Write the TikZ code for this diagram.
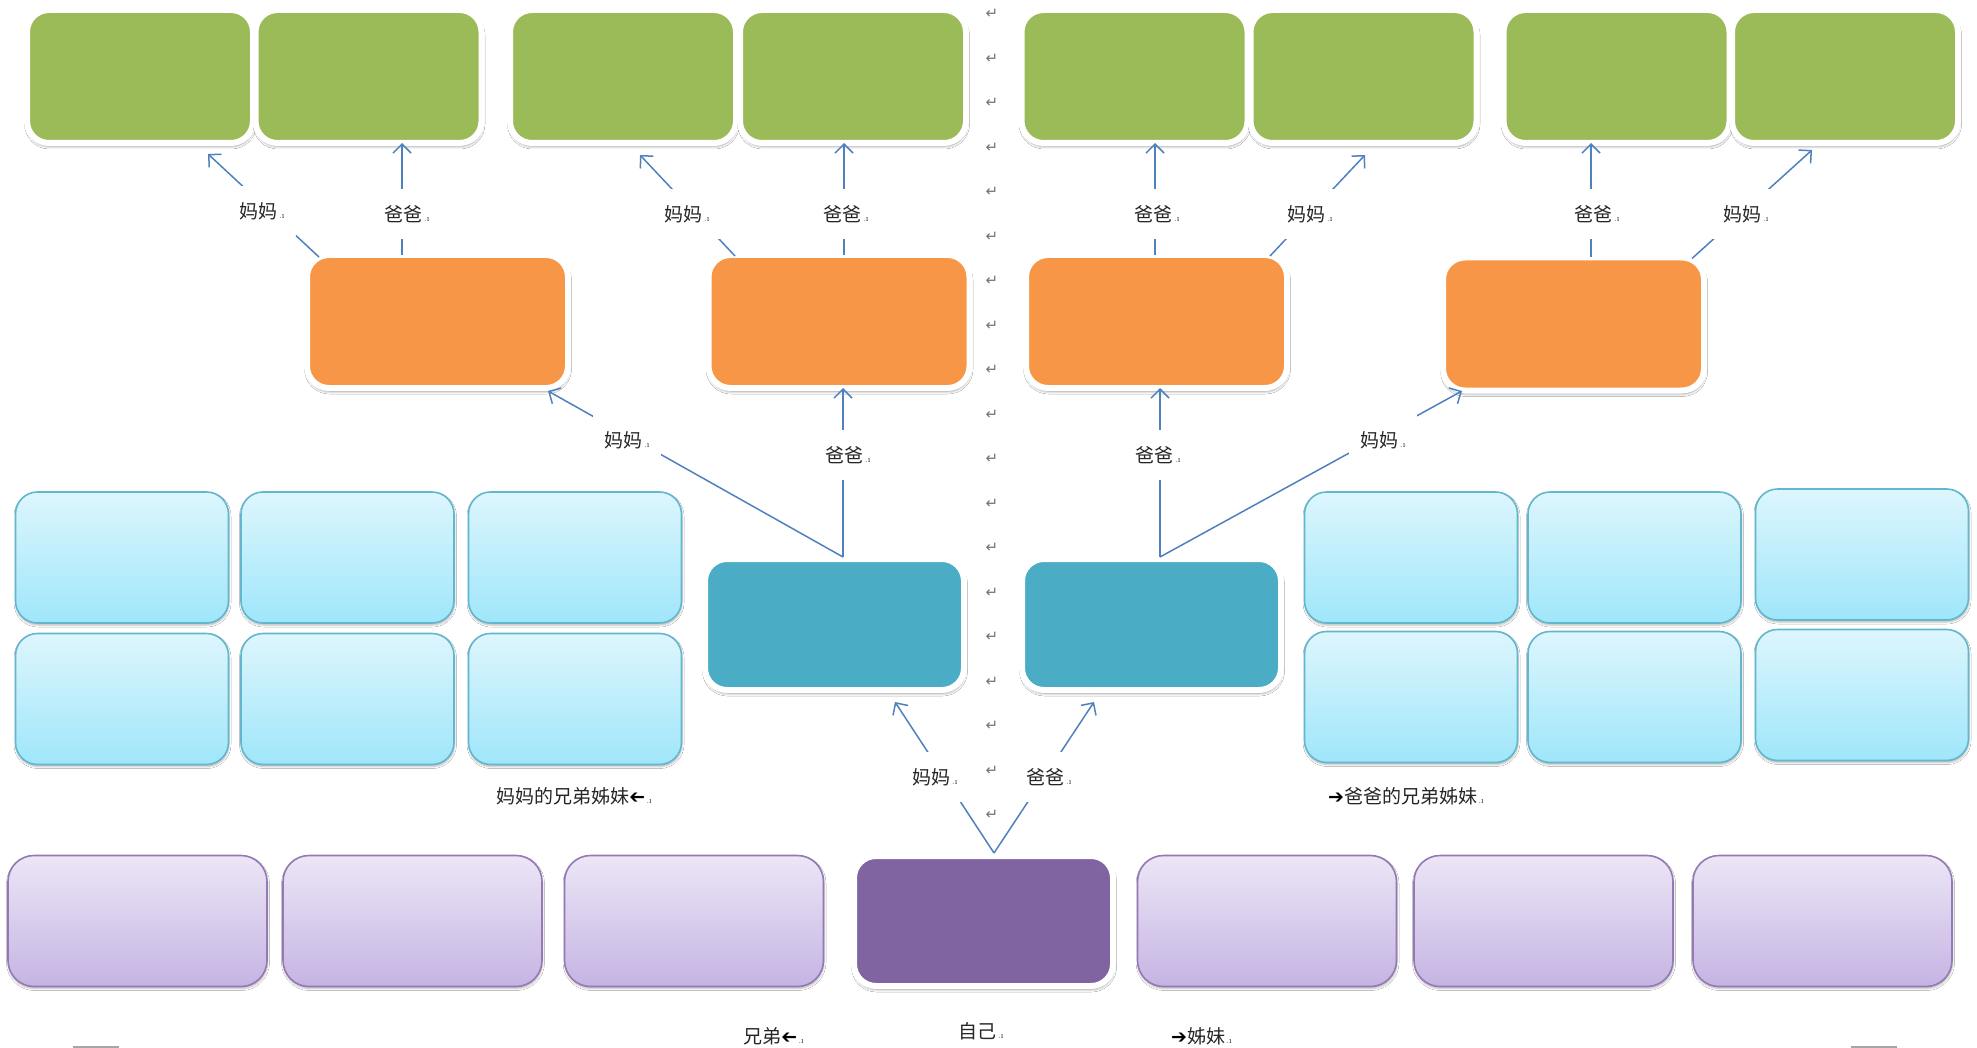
\documentclass[tikz,border=0pt]{standalone}
\usepackage{fontspec}
\usepackage{graphicx}
\newfontfamily\cjk{Noto Sans CJK SC}
\newfontfamily\djv{DejaVu Sans}
\newfontfamily\djvb{DejaVu Sans Bold}
\usetikzlibrary{arrows.meta,calc,shadows.blur}
\definecolor{grn}{HTML}{9BBB59}
\definecolor{org}{HTML}{F79646}
\definecolor{tea}{HTML}{4BACC6}
\definecolor{pur}{HTML}{8064A2}
\definecolor{lbtop}{HTML}{DDF6FD}
\definecolor{lbbot}{HTML}{9FE6FA}
\definecolor{lbdraw}{HTML}{62B6CD}
\definecolor{lptop}{HTML}{ECE6F6}
\definecolor{lpbot}{HTML}{C5B4E3}
\definecolor{lpdraw}{HTML}{9479B4}
\definecolor{cn}{HTML}{4F81BD}
\newcommand\dmk{{\fontsize{9}{9}\selectfont\rmfamily\,.ı}}
\newcommand\rarr{{\djvb\color{black}➔}}
\newcommand\larr{{\djvb\color{black}\reflectbox{➔}}}
\begin{document}
\begin{tikzpicture}[x=1pt,y=-1pt,
 wbox/.style={draw=white, line width=6pt, rounded corners=22pt, outer sep=0pt, inner sep=0pt,
   blur shadow={shadow xshift=0.5pt, shadow yshift=-3pt, shadow opacity=50, shadow blur radius=3pt}},
 gbox/.style={wbox, fill=grn, minimum width=226pt, minimum height=133pt},
 obox/.style={wbox, fill=org, minimum width=261pt, minimum height=133pt},
 tbox/.style={wbox, fill=tea, minimum width=259pt, minimum height=131pt},
 sbox/.style={wbox, fill=pur, minimum width=259pt, minimum height=130pt},
 lbox/.style={draw=lbdraw, line width=1.6pt, top color=lbtop, bottom color=lbbot, rounded corners=22pt,
   minimum width=213pt, minimum height=131pt, outer sep=0pt, inner sep=0pt,
   blur shadow={shadow xshift=0.5pt, shadow yshift=-2pt, shadow opacity=30, shadow blur radius=2pt}},
 pbox/.style={draw=lpdraw, line width=1.6pt, top color=lptop, bottom color=lpbot, rounded corners=26pt,
   minimum width=259pt, minimum height=131pt, outer sep=0pt, inner sep=0pt,
   blur shadow={shadow xshift=0.5pt, shadow yshift=-2pt, shadow opacity=30, shadow blur radius=2pt}},
 conn/.style={draw=cn, line width=1.5pt},
 arr/.style={conn, -{Straight Barb[length=9pt,width=18pt]}},
 lab/.style={fill=white, font=\cjk\fontsize{19}{19}\selectfont, text=black!85, inner xsep=12pt, minimum height=50pt},
 btxt/.style={font=\cjk\fontsize{19}{19}\selectfont, text=black!85, inner sep=0pt},
 pmark/.style={font=\djv\fontsize{15}{15}\selectfont, text=black!55, inner sep=0pt},
]
\fill[white] (0,0) rectangle (1977,1048);
\useasboundingbox (0,0) rectangle (1977,1048);

% paragraph marks
\foreach \k in {0,...,18}
  \node[pmark] (pm\k) at (992,14+44.5*\k) {↵};

% green boxes
\node[gbox] (g1) at (140,76.5) {};
\node[gbox] (g2) at (368.5,76.5) {};
\node[gbox] (g3) at (623,76.5) {};
\node[gbox] (g4) at (853,76.5) {};
\node[gbox] (g5) at (1134.5,76.5) {};
\node[gbox] (g6) at (1363.5,76.5) {};
\node[gbox] (g7) at (1616.5,76.5) {};
\node[gbox] (g8) at (1845,76.5) {};

% orange boxes
\node[obox] (o1) at (437.5,321.5) {};
\node[obox] (o2) at (839,321.5) {};
\node[obox] (o3) at (1156.5,321.5) {};
\node[obox] (o4) at (1573.5,324) {};

% teal boxes
\node[tbox] (t1) at (834.5,624.5) {};
\node[tbox] (t2) at (1151.5,624.5) {};

% light blue boxes
\node[lbox] (lb1) at (122,557.5) {};
\node[lbox] (lb2) at (347.5,557.5) {};
\node[lbox] (lb3) at (575,557.5) {};
\node[lbox] (lb4) at (122,699) {};
\node[lbox] (lb5) at (347.5,699) {};
\node[lbox] (lb6) at (575,699) {};
\node[lbox] (rb1) at (1411,557.5) {};
\node[lbox] (rb2) at (1634.5,557.5) {};
\node[lbox] (rb3) at (1862,554.5) {};
\node[lbox] (rb4) at (1411,697) {};
\node[lbox] (rb5) at (1634.5,697) {};
\node[lbox] (rb6) at (1862,695) {};

% purple boxes
\node[pbox] (p1) at (137.5,921) {};
\node[pbox] (p2) at (412.5,921) {};
\node[pbox] (p3) at (694,921) {};
\node[sbox] (self) at (983.5,921) {};
\node[pbox] (p5) at (1267,921) {};
\node[pbox] (p6) at (1543.5,921) {};
\node[pbox] (p7) at (1822.5,921) {};

% connectors level 1
\draw[arr] ($(o1.north west)+(12,2)$) -- ($(g1.south east)+(-45,11)$);
\coordinate (a2) at ($(o1.north)+(-35.5,0)$);
\draw[arr] (a2) -- (a2 |- g2.south);
\draw[arr] ($(o2.north west)+(26.5,1)$) -- ($(g3.south east)+(-96,12)$);
\coordinate (a4) at ($(o2.north)+(5,0)$);
\draw[arr] (a4) -- (a4 |- g4.south);
\coordinate (a5) at ($(o3.north)+(-1.5,0)$);
\draw[arr] (a5) -- (a5 |- g5.south);
\draw[arr] ($(o3.north east)+(-17,1)$) -- ($(g6.south west)+(114.5,12)$);
\coordinate (a7) at ($(o4.north)+(17.5,0)$);
\draw[arr] (a7) -- (a7 |- g7.south);
\draw[arr] ($(o4.north east)+(-12,1)$) -- ($(g8.south west)+(80,7)$);

% level 2
\coordinate (j1) at ($(t1.north)+(8.5,-2)$);
\draw[arr] (j1) -- (j1 |- o2.south);
\draw[arr] (j1) -- ($(o1.south east)+(-20,3)$);
\coordinate (j2) at ($(t2.north)+(8.5,-2)$);
\draw[arr] (j2) -- (j2 |- o3.south);
\draw[arr] (j2) -- ($(o4.south west)+(19,0.5)$);

% level 3
\coordinate (j3) at ($(self.north)+(10.5,-3)$);
\draw[arr] (j3) -- ($(t1.south)+(60.5,12)$);
\draw[arr] (j3) -- ($(t2.south)+(-57.5,12)$);

% labels
\node[lab] (l1) at (262,211) {妈妈\dmk};
\node[lab] (l2) at (407,214) {爸爸\dmk};
\node[lab] (l3) at (687,214) {妈妈\dmk};
\node[lab] (l4) at (846,214) {爸爸\dmk};
\node[lab] (l5) at (1157,214) {爸爸\dmk};
\node[lab] (l6) at (1310,214) {妈妈\dmk};
\node[lab] (l7) at (1597,214) {爸爸\dmk};
\node[lab] (l8) at (1746,214) {妈妈\dmk};
\node[lab] (m1) at (627,440) {妈妈\dmk};
\node[lab] (m2) at (848,455) {爸爸\dmk};
\node[lab] (m3) at (1158,455) {爸爸\dmk};
\node[lab] (m4) at (1383,440) {妈妈\dmk};
\node[lab] (s1) at (935,777) {妈妈\dmk};
\node[lab] (s2) at (1049,777) {爸爸\dmk};

% bottom texts
\node[btxt, anchor=west] (tm) at (496,796) {妈妈的兄弟姊妹\larr\dmk};
\node[btxt, anchor=west] (tf) at (1328,796) {\rarr 爸爸的兄弟姊妹\dmk};
\node[btxt, anchor=west] (tb) at (743,1036) {兄弟\larr\dmk};
\node[btxt] (ts) at (981,1031) {自己\dmk};
\node[btxt, anchor=west] (tz) at (1171,1036) {\rarr 姊妹\dmk};

% page edge marks
\draw[black!35, line width=1.5pt] (73,1047) -- (119,1047);
\draw[black!35, line width=1.5pt] (1851,1047) -- (1897,1047);
\end{tikzpicture}
\end{document}
